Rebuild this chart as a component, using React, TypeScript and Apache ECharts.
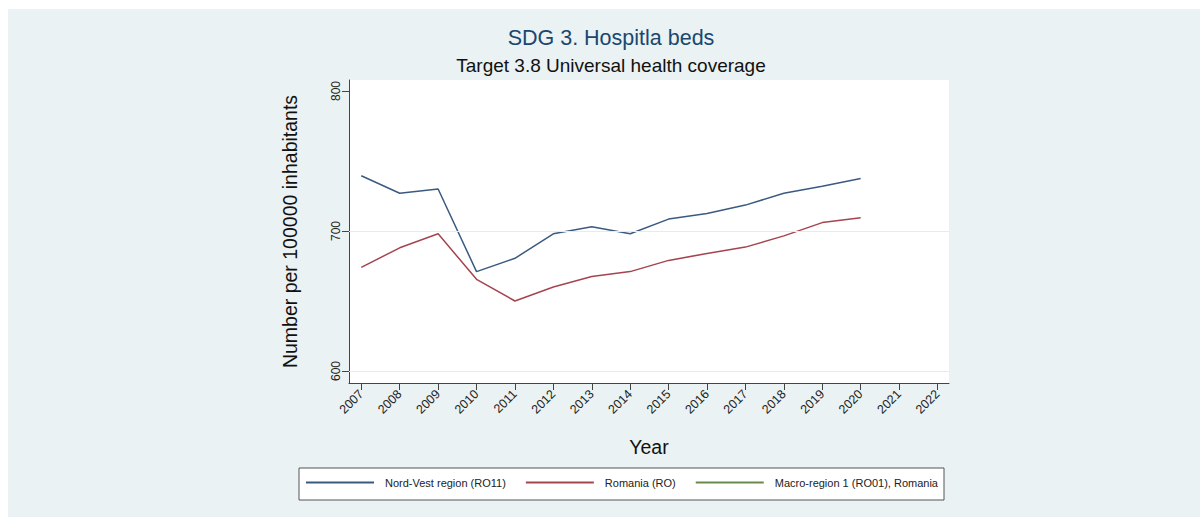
import React, { useEffect, useRef } from "react";
import * as echarts from "echarts";

const years = [2007, 2008, 2009, 2010, 2011, 2012, 2013, 2014, 2015, 2016, 2017, 2018, 2019, 2020];
const tickYears = [2007, 2008, 2009, 2010, 2011, 2012, 2013, 2014, 2015, 2016, 2017, 2018, 2019, 2020, 2021, 2022];
const nordVest = [739.5, 727, 730, 671, 680.5, 698, 703, 698, 708.5, 712.5, 718.5, 727, 732, 737.5];
const romania = [674, 688, 698, 665.5, 650, 660, 667.5, 671, 679, 684, 688.5, 696.5, 706, 709.5];
const macroRegion1: number[] = [];
const yTicks = [600, 700, 800];
const gridValues = [600, 700];
const seriesNames = ["Nord-Vest region (RO11)", "Romania (RO)", "Macro-region 1 (RO01), Romania"];
const seriesColors = ["#3a5a80", "#a5444f", "#6a8a4a"];
const titleText = "SDG 3. Hospitla beds";
const subtitleText = "Target 3.8 Universal health coverage";
const yTitle = "Number per 100000 inhabitants";
const xTitle = "Year";

const FONT = "'Liberation Sans', Arial, Helvetica, sans-serif";

export default function App() {
  const ref = useRef<HTMLDivElement>(null);
  useEffect(() => {
    if (!ref.current) return;
    const chart = echarts.init(ref.current, null, { renderer: "svg" });
    const pair = (vals: number[]) => vals.map((v, i) => [years[i], v]);
    chart.setOption({
      animation: false,
      backgroundColor: "#eaf2f3",
      textStyle: { fontFamily: FONT },
      grid: {
        left: 341,
        top: 71,
        width: 600,
        height: 303,
        show: true,
        backgroundColor: "#ffffff",
        borderWidth: 0,
        containLabel: false,
      },
      xAxis: {
        type: "value",
        min: 2006.68,
        max: 2022.3,
        axisLine: { show: true, onZero: false, lineStyle: { color: "#444", width: 1 } },
        axisTick: { show: true, length: 7, customValues: tickYears, lineStyle: { color: "#444" } },
        axisLabel: {
          show: true,
          customValues: tickYears,
          rotate: 45,
          fontSize: 12.5,
          color: "#222",
          margin: 9,
          fontFamily: FONT,
          formatter: (v: number) => String(Math.round(v)),
        },
        splitLine: { show: false },
      },
      yAxis: {
        type: "value",
        min: 591.43,
        max: 807.86,
        axisLine: { show: true, onZero: false, lineStyle: { color: "#444", width: 1 } },
        axisTick: { show: true, length: 7, customValues: yTicks, lineStyle: { color: "#444" } },
        axisLabel: {
          show: true,
          customValues: yTicks,
          rotate: 90,
          fontSize: 12,
          color: "#222",
          margin: 7,
          fontFamily: FONT,
          formatter: (v: number) => String(Math.round(v)),
        },
        splitLine: { show: false },
      },
      legend: {
        show: true,
        data: seriesNames,
        left: 298,
        top: 468,
        padding: 0,
        itemGap: 20,
        itemWidth: 68,
        itemHeight: 2,
        icon: "rect",
        selectedMode: false,
        textStyle: { fontSize: 11, color: "#222", fontFamily: FONT, padding: [0, 0, 0, 6] },
      },
      graphic: [
        {
          type: "rect",
          shape: { x: 291, y: 459, width: 645, height: 32 },
          style: { fill: "#ffffff", stroke: "#555", lineWidth: 1 },
          z: -1,
          silent: true,
        },
        {
          type: "text",
          x: 603,
          y: 29,
          style: { text: titleText, fontSize: 21.5, fill: "#1a476f", fontFamily: FONT, textAlign: "center", textVerticalAlign: "middle" },
        },
        {
          type: "text",
          x: 603,
          y: 56,
          style: { text: subtitleText, fontSize: 19, fill: "#111", fontFamily: FONT, textAlign: "center", textVerticalAlign: "middle" },
        },
        {
          type: "text",
          x: 282,
          y: 222.5,
          rotation: Math.PI / 2,
          style: { text: yTitle, fontSize: 19.5, fill: "#111", fontFamily: FONT, textAlign: "center", textVerticalAlign: "middle" },
        },
        {
          type: "text",
          x: 641,
          y: 438,
          style: { text: xTitle, fontSize: 19.5, fill: "#111", fontFamily: FONT, textAlign: "center", textVerticalAlign: "middle" },
        },
      ],
      series: [
        {
          name: "gridlines",
          type: "line",
          data: [],
          silent: true,
          z: 1,
          markLine: {
            silent: true,
            symbol: ["none", "none"],
            label: { show: false },
            lineStyle: { color: "#e6ecee", width: 1, type: "solid" },
            data: gridValues.map((v) => ({ yAxis: v })),
          },
        },
        {
          name: seriesNames[0],
          type: "line",
          data: pair(nordVest),
          showSymbol: false,
          symbol: "none",
          z: 3,
          color: seriesColors[0],
          lineStyle: { color: seriesColors[0], width: 1.5 },
        },
        {
          name: seriesNames[1],
          type: "line",
          data: pair(romania),
          showSymbol: false,
          symbol: "none",
          z: 3,
          color: seriesColors[1],
          lineStyle: { color: seriesColors[1], width: 1.5 },
        },
        {
          name: seriesNames[2],
          type: "line",
          data: pair(macroRegion1),
          showSymbol: false,
          symbol: "none",
          z: 3,
          color: seriesColors[2],
          lineStyle: { color: seriesColors[2], width: 1.5 },
        },
      ],
    });
    return () => chart.dispose();
  }, []);
  return (
    <div
      ref={ref}
      style={{ position: "absolute", left: 8, top: 9, width: 1192, height: 508 }}
    />
  );
}
